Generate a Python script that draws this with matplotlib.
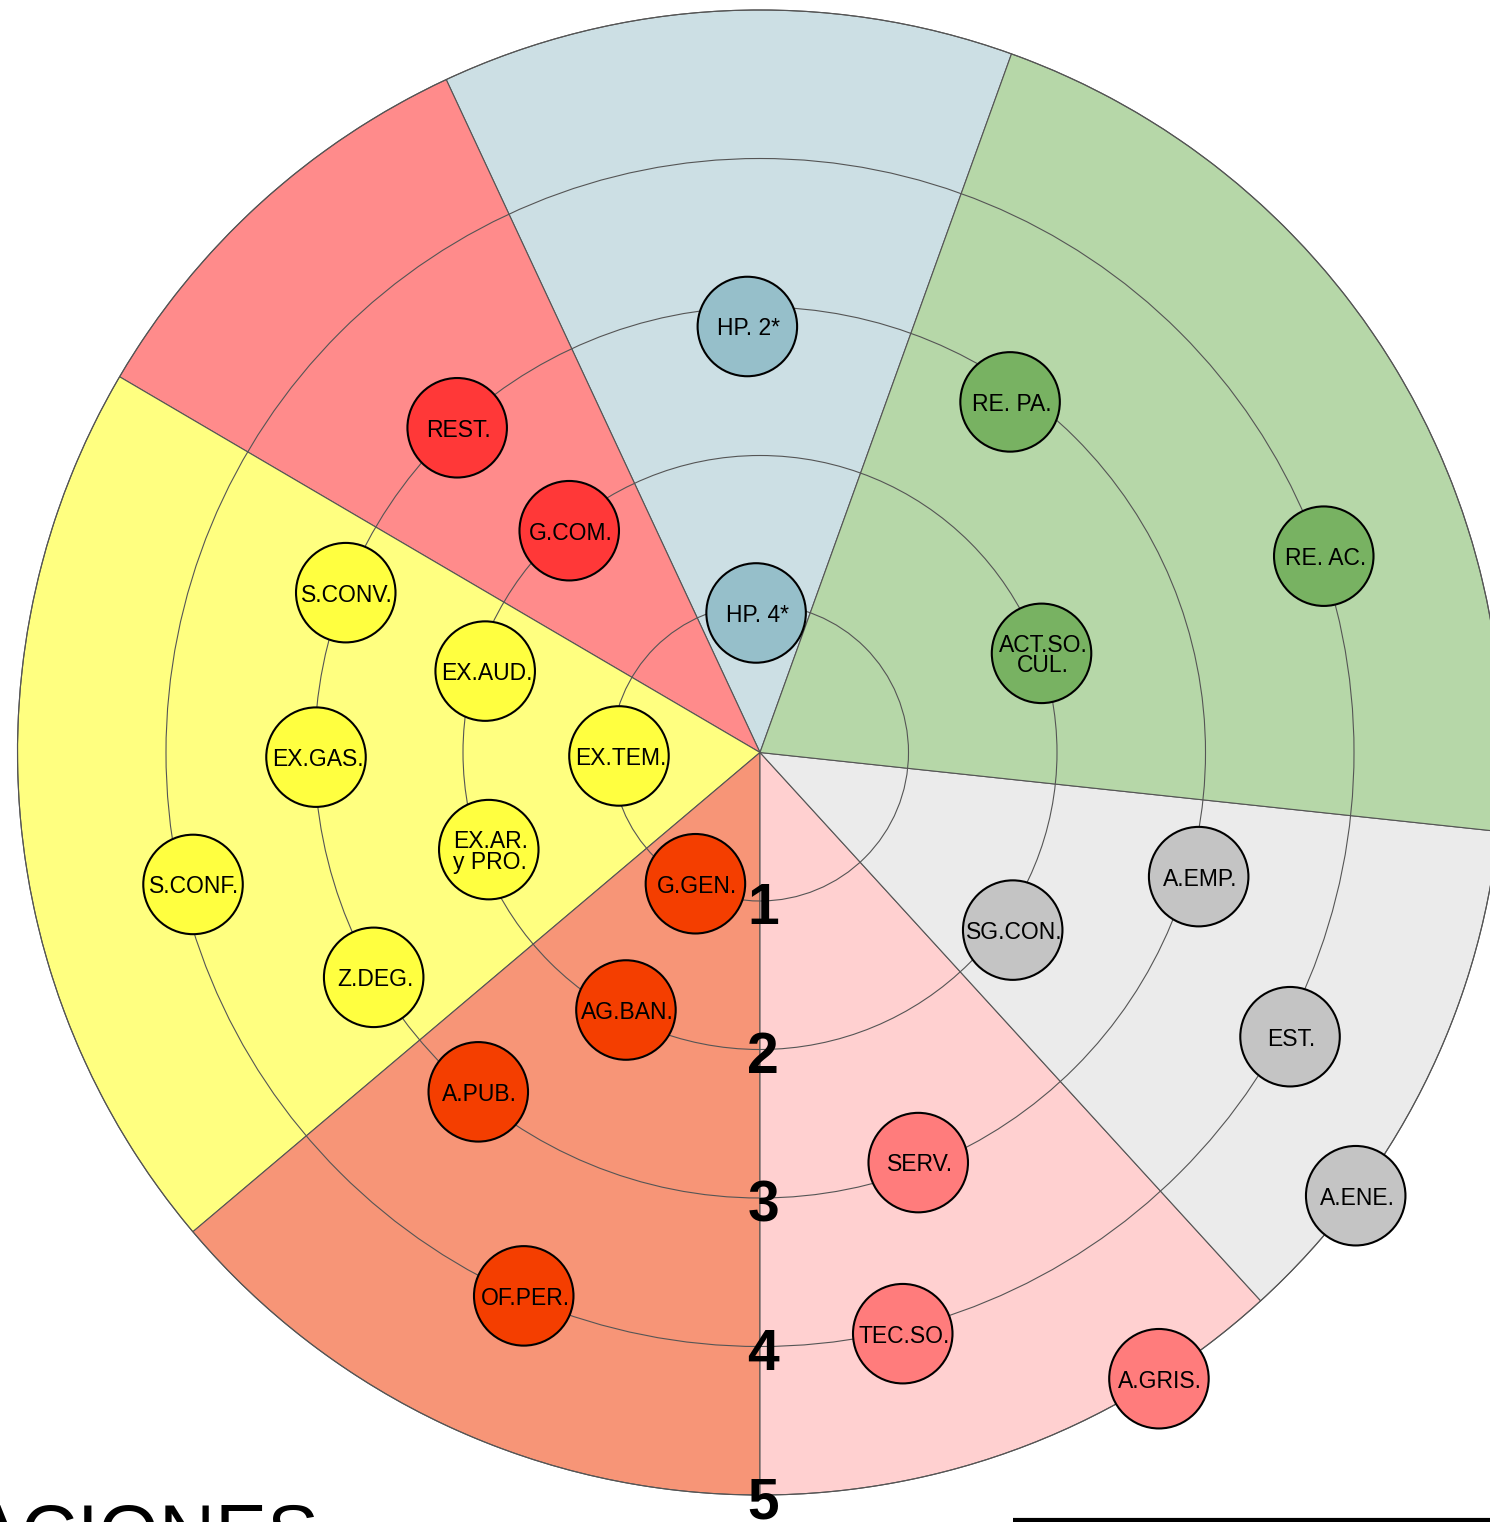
import numpy as np
import matplotlib.pyplot as plt
from matplotlib.patches import Wedge, Circle

plt.rcParams['font.family'] = ['Liberation Sans', 'DejaVu Sans']

# sectors (angles in degrees, counter-clockwise from east)
sector_start = [70.2, 115.0, 149.6, 220.2, 270.0, 312.4, 353.9]
sector_end = [115.0, 149.6, 220.2, 270.0, 312.4, 353.9, 430.2]
sector_fill = ['#CCDFE4', '#FF8B8B', '#FFFF80', '#F79577', '#FFD0D0', '#EBEBEB', '#B6D7A8']
node_fill = ['#96BFCA', '#FF3838', '#FFFF40', '#F43E00', '#FF7C7C', '#C4C4C4', '#78B262']

ring_values = [1, 2, 3, 4, 5]
ring_labels = ['1', '2', '3', '4', '5']

node_labels = ['HP. 2*', 'HP. 4*', 'RE. PA.', 'RE. AC.', 'ACT.SO.\nCUL.',
               'A.EMP.', 'SG.CON.', 'EST.', 'A.ENE.',
               'SERV.', 'TEC.SO.', 'A.GRIS.',
               'G.GEN.', 'AG.BAN.', 'A.PUB.', 'OF.PER.',
               'S.CONV.', 'EX.AUD.', 'EX.GAS.', 'EX.TEM.', 'EX.AR.\ny PRO.', 'S.CONF.', 'Z.DEG.',
               'REST.', 'G.COM.']
node_radius = [2.87, 0.94, 2.90, 4.02, 2.01,
               3.07, 2.08, 4.05, 5.00,
               2.96, 4.03, 5.00,
               0.985, 1.955, 2.97, 3.99,
               2.99, 1.93, 2.99, 0.95, 1.94, 3.92, 3.01,
               2.99, 1.97]
node_angle = [91.7, 91.6, 54.5, 19.2, 19.4,
              -15.8, -35.1, -28.2, -36.65,
              -68.9, -76.2, -57.5,
              243.8, 242.5, 230.3, 246.5,
              158.9, 163.5, 180.6, 181.4, 199.7, 193.1, 210.2,
              133.0, 130.7]
node_sector = [0, 0, 6, 6, 6,
               5, 5, 5, 5,
               4, 4, 4,
               3, 3, 3, 3,
               2, 2, 2, 2, 2, 2, 2,
               1, 1]

S = 148.5          # pixels per ring unit
cx, cy = 760, 752.5

fig = plt.figure(figsize=(14.9, 15.22), dpi=100)
ax = fig.add_axes([0, 0, 1, 1])
ax.set_xlim(-cx / S, (1490 - cx) / S)
ax.set_ylim(-(1522 - cy) / S, cy / S)
ax.axis('off')

# coloured sectors
for a0, a1, col in zip(sector_start, sector_end, sector_fill):
    ax.add_patch(Wedge((0, 0), 5.0, a0, a1, facecolor=col, edgecolor='#555555',
                       linewidth=0.8, zorder=1))

# rings
for r in ring_values:
    ax.add_patch(Circle((0, 0), r, fill=False, edgecolor='#555555', linewidth=0.8, zorder=2))

# nodes
for lab, r, ang, sec in zip(node_labels, node_radius, node_angle, node_sector):
    x = r * np.cos(np.radians(ang))
    y = r * np.sin(np.radians(ang))
    ax.add_patch(Circle((x, y), 0.335, facecolor=node_fill[sec], edgecolor='black',
                        linewidth=1.5, zorder=3))
    ax.text(x + 0.01, y - 0.016, lab, ha='center', va='center', fontsize=16.5,
            linespacing=0.85, zorder=4)

# ring numbers
for r, lab in zip(ring_values, ring_labels):
    ax.text(0.02, -r - 0.158, lab, ha='center', va='baseline', fontsize=41,
            fontweight='bold', zorder=5)

# cropped title and frame at the bottom
ax.text((-30 - cx) / S, (cy - 1559) / S, 'ACIONES', ha='left', va='baseline',
        fontsize=56, zorder=5)
ax.plot([(1013 - cx) / S, (1500 - cx) / S], [(cy - 1520) / S, (cy - 1520) / S],
        color='black', linewidth=3, solid_capstyle='butt', zorder=5)

fig.savefig('out.png', dpi=100)
